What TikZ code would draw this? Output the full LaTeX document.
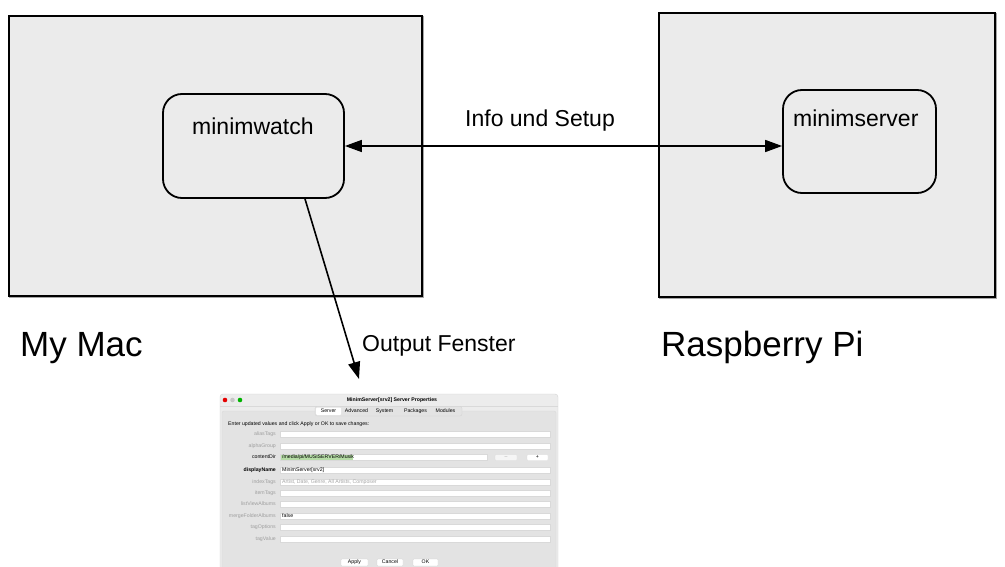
\documentclass[tikz,border=0pt]{standalone}
\usepackage{fontspec}
\setmainfont{Liberation Sans}
\usetikzlibrary{arrows.meta}
\definecolor{boxfill}{HTML}{EBEBEB}
\definecolor{winbg}{HTML}{ECECEC}
\definecolor{panelbg}{HTML}{E3E3E3}
\definecolor{hlgreen}{HTML}{B5DCA5}
\tikzset{
  machine/.style={draw, line width=2pt, fill=boxfill, inner sep=0pt,
    preaction={draw=black!35, line width=2pt, transform canvas={xshift=1.3pt,yshift=-1.3pt}}},
  proc/.style={draw, line width=1.8pt, rounded corners=19pt, fill=boxfill, inner sep=0pt},
  lbl/.style={font=\fontsize{23}{27}\selectfont, inner sep=0pt},
  biglbl/.style={font=\fontsize{35}{40}\selectfont, inner sep=0pt},
  conn/.style={line width=1.6pt, >={Triangle[length=17pt,width=12pt]}},
  tiny/.style={font=\fontsize{5.2}{6}\selectfont, inner sep=0pt, text height=3.8pt, text depth=1pt},
  field/.style={fill=white, draw=gray!30, line width=0.3pt},
}
\begin{document}
\begin{tikzpicture}[x=1pt,y=-1pt]
\useasboundingbox (0,0) rectangle (1005,567);
% machines
\node[machine, minimum width=413pt, minimum height=280pt] (mac) at (215.5,156) {};
\node[machine, minimum width=336pt, minimum height=284pt] (pi) at (827,155) {};
% processes
\node[proc, minimum width=181pt, minimum height=104pt] (mw) at (253.5,146) {};
\node[proc, minimum width=153pt, minimum height=103pt] (ms) at (859.5,141.5) {};
\node[lbl, anchor=base west] (mwl) at (192,135) {minimwatch};
\node[lbl, anchor=base west] (msl) at (793,127) {minimserver};
% connectors
\draw[conn, <->] (mw.east) -- (mw.east -| ms.west);
\node[lbl, anchor=base west] (info) at (465,127) {Info und Setup};
\coordinate (outtip) at (359,379);
\draw[conn, ->] ([xshift=51.5pt]mw.south) -- (outtip);
\node[lbl, anchor=base west] (outl) at (362,351) {Output Fenster};
% machine labels
\node[biglbl, anchor=base west] (macl) at (20,356) {My Mac};
\node[biglbl, anchor=base west] (pil) at (661,356) {Raspberry Pi};
% screenshot window
\begin{scope}
\clip (0,0) rectangle (1005,567);
\draw[fill=winbg, draw=gray!35, line width=0.4pt, rounded corners=3pt] (220,394) rectangle (558,580);
\draw[gray!30, line width=0.4pt] (220,406) -- (558,406);
\fill[red!90!black] (225,400) circle (2.3);
\fill[gray!45] (232.5,400) circle (2.3);
\fill[green!70!black] (240,400) circle (2.3);
\node[tiny, font=\fontsize{5.2}{6}\selectfont\bfseries] (title) at (392,400) {MinimServer[srv2] Server Properties};
\draw[fill=panelbg, draw=gray!30, line width=0.4pt, rounded corners=2pt] (222,411) rectangle (556,580);
\draw[fill=gray!22, draw=gray!35, line width=0.3pt, rounded corners=2pt] (315,406.5) rectangle (462,416);
\fill[white, rounded corners=1pt] (316,407.5) rectangle (341,415);
\node[tiny] at (328.5,411.3) {Server};
\node[tiny] at (356.5,411.3) {Advanced};
\node[tiny] at (384.5,411.3) {System};
\node[tiny] at (415.5,411.3) {Packages};
\node[tiny] at (445.5,411.3) {Modules};
\node[tiny, anchor=west] at (228,424) {Enter updated values and click Apply or OK to save changes:};
% rows
\foreach \lab/\y in {aliasTags/434, alphaGroup/446, indexTags/482, itemTags/493, listViewAlbums/504.5, mergeFolderAlbums/516, tagOptions/527.5, tagValue/539}{
  \node[tiny, text=gray!75, anchor=east] at (276,\y) {\lab};
  \draw[field] (280,\y-3) rectangle (550,\y+3);
}
\node[tiny, anchor=east] at (276,457.5) {contentDir};
\draw[field] (280,454.5) rectangle (487,460.5);
\fill[hlgreen] (281,455.2) rectangle (353,459.8);
\node[tiny, anchor=west] at (282,457.5) {/media/pi/MUSISERVER/Musik};
\draw[fill=gray!8, draw=gray!30, line width=0.3pt, rounded corners=1pt] (495,454.5) rectangle (517,460.5);
\node[tiny, text=gray!70] at (506,457.5) {--};
\draw[fill=white, draw=gray!30, line width=0.3pt, rounded corners=1pt] (527,454.5) rectangle (548,460.5);
\node[tiny] at (537.5,457.5) {+};
\node[tiny, font=\fontsize{5.2}{6}\selectfont\bfseries, anchor=east] at (276,470) {displayName};
\draw[field] (280,467) rectangle (550,473);
\node[tiny, anchor=west] at (282,470) {MinimServer[srv2]};
\node[tiny, text=gray!70, anchor=west] at (282,482) {Artist, Date, Genre, All Artists, Composer};
\node[tiny, anchor=west] at (282,516) {false};
% buttons
\foreach \xa/\xb/\t in {341/368/Apply, 377/403/Cancel, 413/438/OK}{
  \draw[fill=white, draw=gray!35, line width=0.3pt, rounded corners=1pt] (\xa,559) rectangle (\xb,566);
  \node[tiny] at ({(\xa+\xb)/2},562.5) {\t};
}
\end{scope}
\end{tikzpicture}
\end{document}
